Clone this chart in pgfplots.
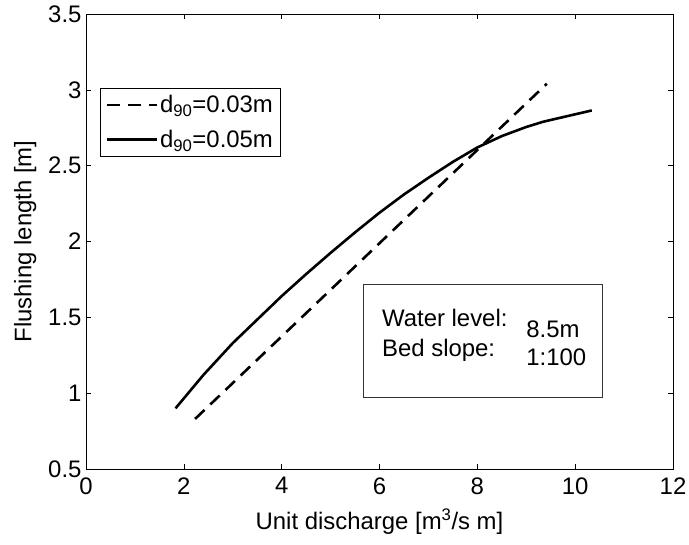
\documentclass[border=0pt]{standalone}
\usepackage{pgfplots}
\pgfplotsset{compat=1.18}
\usepackage{fontspec}
\setmainfont{Liberation Sans}
\newcommand{\fs}{\fontsize{24}{28}\selectfont}
\begin{document}
\begin{tikzpicture}[font=\fs]
\begin{axis}[
  name=ax,
  scale only axis,
  width=587bp, height=455bp,
  xmin=0, xmax=12, ymin=0.5, ymax=3.5,
  xtick={0,2,...,12},
  ytick={0.5,1,...,3.5},
  yticklabels={0.5,1,1.5,2,2.5,3,3.5},
  /pgf/number format/assume math mode=true,
  tick align=inside,
  major tick length=5bp,
  tick style={black, line width=0.6bp},
  axis line style={black, line width=0.8bp},
  ticklabel style={font=\fs},
  xticklabel style={yshift=-5bp},
  yticklabel style={xshift=-1bp},
  label style={font=\fs},
  xlabel={Unit discharge [m\textsuperscript{3}/s m]},
  ylabel={Flushing length [m]},
  xlabel style={yshift=-8bp},
  ylabel style={yshift=5bp},
  legend style={at={(0.024,0.837)}, anchor=north west, draw=black, line width=0.8bp,
    font=\fs, inner sep=5bp, row sep=12bp},
  legend cell align=left,
  legend image code/.code={\draw[#1] (0bp,0bp) -- (50bp,0bp);},
]
\addplot[black, line width=2.6bp, dash pattern=on 13bp off 8bp] coordinates {
(2.23,0.83) (9.42,3.04)
};
\addlegendentry{d\textsubscript{90}=0.03m}
\addplot[black, line width=2.6bp] coordinates {
(1.83,0.90) (2.4,1.12) (3.0,1.33) (3.5,1.485) (4.0,1.64) (4.5,1.785) (5.0,1.925) (5.5,2.06) (6.0,2.19) (6.5,2.31) (7.0,2.42) (7.5,2.525) (8.0,2.62) (8.5,2.695) (9.0,2.755) (9.35,2.79) (10.34,2.864)
};
\addlegendentry{d\textsubscript{90}=0.05m}
\draw[black!80, line width=0.8bp] (axis cs:5.67,1.72) rectangle (axis cs:10.55,0.975);
\node[anchor=base west, inner sep=0pt] at (axis cs:6.05,1.437) {Water level:};
\node[anchor=base west, inner sep=0pt] at (axis cs:6.05,1.245) {Bed slope:};
\node[anchor=base west, inner sep=0pt] at (axis cs:9.0,1.37) {8.5m};
\node[anchor=base west, inner sep=0pt] at (axis cs:9.0,1.18) {1:100};
\end{axis}
\pgfresetboundingbox
\path ([xshift=-86bp,yshift=-76bp]ax.south west) rectangle ([xshift=16bp,yshift=14bp]ax.north east);
\end{tikzpicture}
\end{document}
